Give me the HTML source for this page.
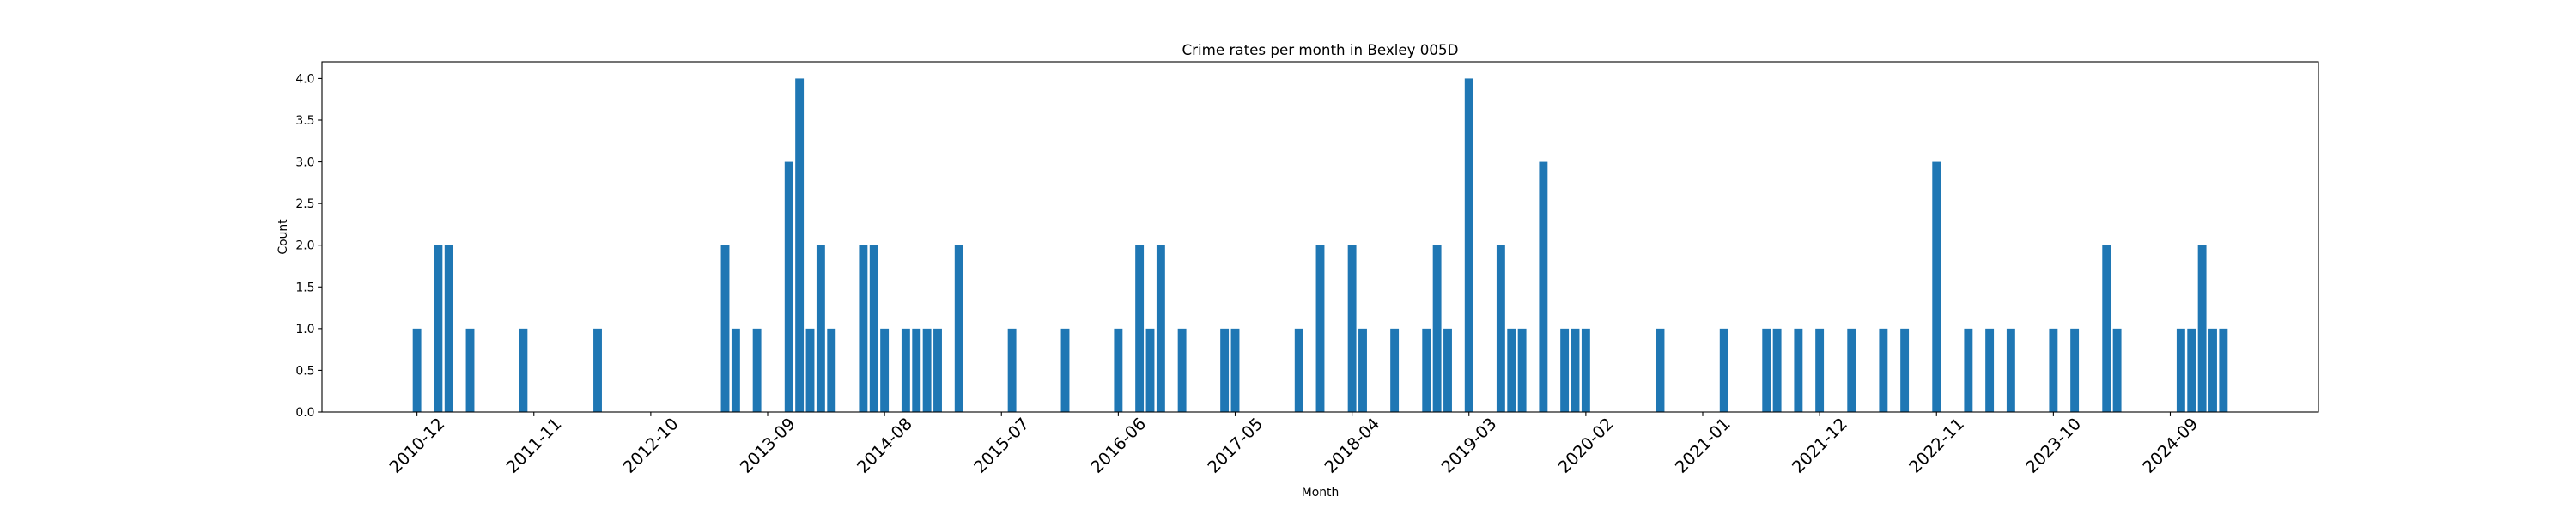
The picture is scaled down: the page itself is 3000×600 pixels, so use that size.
<!DOCTYPE html>
<html><head><meta charset="utf-8">
<style>
html,body{margin:0;padding:0;background:#fff;}
svg{display:block;font-family:"DejaVu Sans","Liberation Sans",sans-serif;}
</style></head>
<body>
<svg id="chart" width="3000" height="600" viewBox="0 0 3000 600" xmlns="http://www.w3.org/2000/svg">
<rect width="3000" height="600" fill="#fff"/>
<text x="1537.5" y="64" font-size="16.7" text-anchor="middle">Crime rates per month in Bexley 005D</text>
<g id="bars"></g>
<g id="yaxis"></g>
<g id="xaxis"></g>
<rect x="375" y="72" width="2325" height="408" fill="none" stroke="#000" stroke-width="1.1"/>
<text x="0" y="0" transform="translate(334,276) rotate(-90)" font-size="13.9" text-anchor="middle">Count</text>
<text x="1537.5" y="578" font-size="13.9" text-anchor="middle">Month</text>
</svg>
<script>
const startMonth = "2010-12";
const monthCount = 171;
const months = ["2010-12","2011-02","2011-03","2011-05","2011-10","2012-05","2013-05","2013-06","2013-08","2013-11","2013-12","2014-01","2014-02","2014-03","2014-06","2014-07","2014-08","2014-10","2014-11","2014-12","2015-01","2015-03","2015-08","2016-01","2016-06","2016-08","2016-09","2016-10","2016-12","2017-04","2017-05","2017-11","2018-01","2018-04","2018-05","2018-08","2018-11","2018-12","2019-01","2019-03","2019-06","2019-07","2019-08","2019-10","2019-12","2020-01","2020-02","2020-09","2021-03","2021-07","2021-08","2021-10","2021-12","2022-03","2022-06","2022-08","2022-11","2023-02","2023-04","2023-06","2023-10","2023-12","2024-03","2024-04","2024-10","2024-11","2024-12","2025-01","2025-02"];
const counts = [1,2,2,1,1,1,2,1,1,3,4,1,2,1,2,2,1,1,1,1,1,2,1,1,1,2,1,2,1,1,1,1,2,2,1,1,1,2,1,4,2,1,1,3,1,1,1,1,1,1,1,1,1,1,1,1,3,1,1,1,1,1,2,1,1,1,2,1,1];
const xTickLabels = ["2010-12","2011-11","2012-10","2013-09","2014-08","2015-07","2016-06","2017-05","2018-04","2019-03","2020-02","2021-01","2021-12","2022-11","2023-10","2024-09"];
const yTickValues = [0,0.5,1,1.5,2,2.5,3,3.5,4];
const yTickLabels = ["0.0","0.5","1.0","1.5","2.0","2.5","3.0","3.5","4.0"];

const NS = "http://www.w3.org/2000/svg";
const L = 375, R = 2700, T = 72, B = 480;
function monthIdx(s){const [y,m]=s.split("-").map(Number);const [y0,m0]=startMonth.split("-").map(Number);return (y-y0)*12+(m-m0);}
const pad = 0.05*((monthCount-1)+0.8);
const xmin = -0.4-pad, xmax = (monthCount-1)+0.4+pad;
const ymax = Math.max(...counts)*1.05;
function xs(i){return L+(i-xmin)/(xmax-xmin)*(R-L);}
function ys(v){return B-v/ymax*(B-T);}
const bw = xs(0.8)-xs(0);

const gb = document.getElementById("bars");
months.forEach((m,k)=>{
  const r=document.createElementNS(NS,"rect");
  const i=monthIdx(m);
  r.setAttribute("x",xs(i)-bw/2);
  r.setAttribute("width",bw);
  r.setAttribute("y",ys(counts[k]));
  r.setAttribute("height",ys(0)-ys(counts[k]));
  r.setAttribute("fill","#1f77b4");
  
  
  gb.appendChild(r);
});

const gy = document.getElementById("yaxis");
yTickValues.forEach((v,k)=>{
  const y=ys(v);
  const ln=document.createElementNS(NS,"line");
  ln.setAttribute("x1",L-4.9);ln.setAttribute("x2",L);ln.setAttribute("y1",y);ln.setAttribute("y2",y);
  ln.setAttribute("stroke","#000");ln.setAttribute("stroke-width","1.1");
  
  
  gy.appendChild(ln);
  const t=document.createElementNS(NS,"text");
  t.setAttribute("x",L-8.5);t.setAttribute("y",y+5);
  t.setAttribute("font-size","13.9");t.setAttribute("text-anchor","end");
  t.textContent=yTickLabels[k];
  
  
  gy.appendChild(t);
});

const gx = document.getElementById("xaxis");
xTickLabels.forEach((lab)=>{
  const x=xs(monthIdx(lab));
  const ln=document.createElementNS(NS,"line");
  ln.setAttribute("x1",x);ln.setAttribute("x2",x);ln.setAttribute("y1",B);ln.setAttribute("y2",B+4.9);
  ln.setAttribute("stroke","#000");ln.setAttribute("stroke-width","1.1");
  
  
  gx.appendChild(ln);
  const t=document.createElementNS(NS,"text");
  t.setAttribute("x",0);t.setAttribute("y",0);
  t.setAttribute("transform","translate("+x+",519) rotate(-45)");
  t.setAttribute("font-size","19.4");t.setAttribute("text-anchor","middle");
  t.setAttribute("dominant-baseline","central");
  t.textContent=lab;
  
  
  gx.appendChild(t);
});
</script>
</body></html>
